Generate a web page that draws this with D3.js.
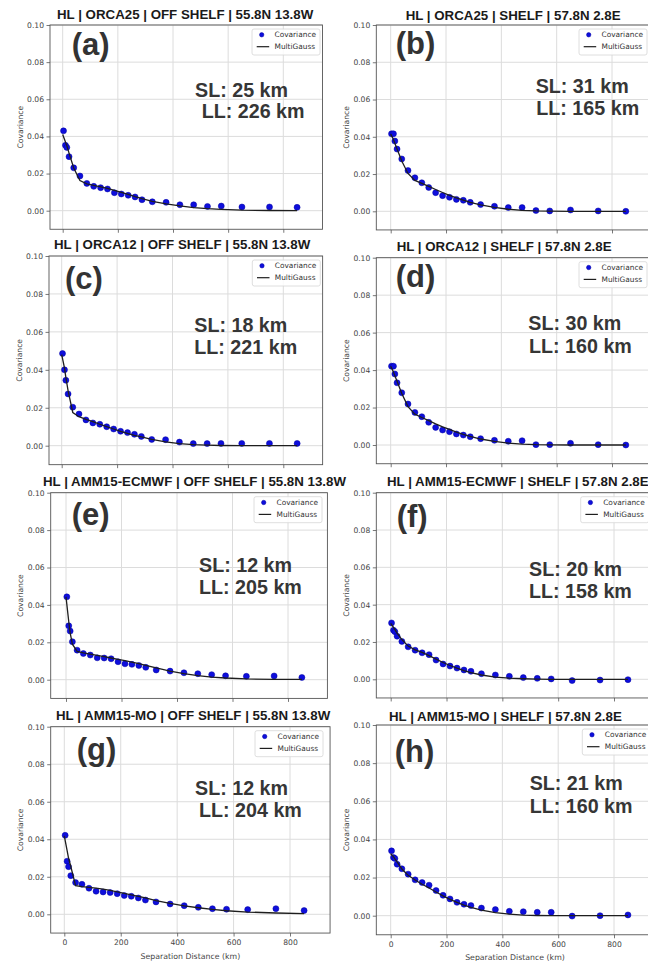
<!DOCTYPE html>
<html>
<head>
<meta charset="utf-8">
<script src="https://cdn.jsdelivr.net/npm/d3@7"></script>
<style>
  html, body { margin: 0; padding: 0; background: #fff; }
  svg { display: block; }
</style>
</head>
<body>
<svg id="fig" width="648" height="961"></svg>
<script>
// Separation distance bins (km) for the binned covariances
const distances = [3, 10, 15, 23, 40, 62.5, 87.5, 112.5, 137.5, 162.5, 187.5, 212.5, 237.5, 262.5, 287.5, 325, 375, 425, 475, 525, 575, 650, 750, 850];
// Distances at which the MultiGauss fit is drawn (km)
const fitDistances = [0, 10, 15, 23, 40, 62.5, 87.5, 112.5, 137.5, 162.5, 187.5, 212.5, 237.5, 262.5, 287.5, 325, 375, 425, 475, 525, 575, 650, 750, 850];

const xTicks = [0, 200, 400, 600, 800];
const yTicks = [0.00, 0.02, 0.04, 0.06, 0.08, 0.10];

// (a) ORCA25 off shelf
const covA = [0.0430, 0.0352, 0.0341, 0.0291, 0.0231, 0.0187, 0.0147, 0.0131, 0.0124, 0.0117, 0.0097, 0.0090, 0.0083, 0.0074, 0.0059, 0.0048, 0.0045, 0.0032, 0.0032, 0.0023, 0.0025, 0.0020, 0.0020, 0.0018];
const fitA = [0.0410, 0.0370, 0.0350, 0.0310, 0.0230, 0.0162, 0.0145, 0.0136, 0.0128, 0.0120, 0.0110, 0.0099, 0.0088, 0.0076, 0.0065, 0.0050, 0.0037, 0.0026, 0.0017, 0.0011, 0.0007, 0.0003, 0.0001, 0.0000];
// (b) ORCA25 shelf
const covB = [0.0416, 0.0416, 0.0377, 0.0334, 0.0281, 0.0219, 0.0180, 0.0153, 0.0128, 0.0100, 0.0084, 0.0075, 0.0064, 0.0059, 0.0048, 0.0036, 0.0027, 0.0020, 0.0020, 0.0004, 0.0002, 0.0007, 0.0002, 0.0000];
const fitB = [0.0415, 0.0385, 0.0365, 0.0335, 0.0270, 0.0203, 0.0166, 0.0150, 0.0134, 0.0117, 0.0101, 0.0086, 0.0072, 0.0060, 0.0048, 0.0035, 0.0021, 0.0011, 0.0005, 0.0002, 0.0001, 0.0000, 0.0000, 0.0000];
// (c) ORCA12 off shelf
const covC = [0.0486, 0.0400, 0.0345, 0.0273, 0.0203, 0.0167, 0.0136, 0.0120, 0.0113, 0.0100, 0.0088, 0.0076, 0.0069, 0.0060, 0.0049, 0.0033, 0.0032, 0.0019, 0.0011, 0.0011, 0.0012, 0.0012, 0.0012, 0.0012];
const fitC = [0.0480, 0.0410, 0.0360, 0.0290, 0.0175, 0.0153, 0.0139, 0.0127, 0.0113, 0.0100, 0.0088, 0.0076, 0.0065, 0.0055, 0.0046, 0.0033, 0.0020, 0.0011, 0.0006, 0.0003, 0.0001, 0.0000, 0.0000, 0.0000];
// (d) ORCA12 shelf
const covD = [0.0421, 0.0421, 0.0379, 0.0332, 0.0279, 0.0219, 0.0174, 0.0151, 0.0121, 0.0094, 0.0080, 0.0071, 0.0059, 0.0053, 0.0044, 0.0034, 0.0025, 0.0020, 0.0023, 0.0002, 0.0002, 0.0009, 0.0002, 0.0000];
const fitD = [0.0420, 0.0390, 0.0370, 0.0340, 0.0275, 0.0205, 0.0165, 0.0147, 0.0130, 0.0113, 0.0097, 0.0083, 0.0069, 0.0057, 0.0046, 0.0032, 0.0019, 0.0010, 0.0005, 0.0002, 0.0001, 0.0000, 0.0000, 0.0000];
// (e) AMM15-ECMWF off shelf
const covE = [0.0443, 0.0288, 0.0260, 0.0203, 0.0158, 0.0140, 0.0132, 0.0117, 0.0116, 0.0112, 0.0096, 0.0085, 0.0082, 0.0076, 0.0066, 0.0052, 0.0046, 0.0037, 0.0032, 0.0027, 0.0021, 0.0018, 0.0020, 0.0012];
const fitE = [0.0443, 0.0310, 0.0250, 0.0190, 0.0151, 0.0143, 0.0137, 0.0130, 0.0123, 0.0116, 0.0109, 0.0102, 0.0094, 0.0086, 0.0077, 0.0063, 0.0046, 0.0033, 0.0022, 0.0014, 0.0009, 0.0004, 0.0002, 0.0002];
// (f) AMM15-ECMWF shelf
const covF = [0.0302, 0.0263, 0.0255, 0.0231, 0.0203, 0.0174, 0.0156, 0.0142, 0.0132, 0.0103, 0.0082, 0.0071, 0.0060, 0.0050, 0.0043, 0.0030, 0.0023, 0.0016, 0.0009, 0.0005, 0.0002, -0.0007, -0.0004, -0.0002];
const fitF = [0.0300, 0.0278, 0.0266, 0.0248, 0.0213, 0.0178, 0.0158, 0.0144, 0.0127, 0.0108, 0.0090, 0.0074, 0.0060, 0.0047, 0.0036, 0.0023, 0.0012, 0.0006, 0.0003, 0.0001, 0.0000, 0.0000, 0.0000, 0.0000];
// (g) AMM15-MO off shelf
const covG = [0.0421, 0.0283, 0.0254, 0.0206, 0.0169, 0.0160, 0.0139, 0.0123, 0.0119, 0.0116, 0.0110, 0.0100, 0.0096, 0.0087, 0.0076, 0.0066, 0.0055, 0.0046, 0.0037, 0.0030, 0.0027, 0.0025, 0.0030, 0.0020];
const fitG = [0.0418, 0.0340, 0.0300, 0.0255, 0.0153, 0.0148, 0.0144, 0.0139, 0.0134, 0.0127, 0.0119, 0.0111, 0.0104, 0.0095, 0.0087, 0.0073, 0.0058, 0.0045, 0.0035, 0.0026, 0.0019, 0.0012, 0.0007, 0.0004];
// (h) AMM15-MO shelf
const covH = [0.0340, 0.0305, 0.0300, 0.0270, 0.0246, 0.0218, 0.0188, 0.0174, 0.0160, 0.0132, 0.0107, 0.0088, 0.0070, 0.0060, 0.0053, 0.0040, 0.0032, 0.0023, 0.0021, 0.0018, 0.0018, -0.0002, 0.0000, 0.0004];
const fitH = [0.0325, 0.0310, 0.0298, 0.0282, 0.0245, 0.0212, 0.0187, 0.0165, 0.0145, 0.0124, 0.0104, 0.0086, 0.0070, 0.0056, 0.0044, 0.0029, 0.0016, 0.0008, 0.0003, 0.0001, 0.0000, 0.0000, 0.0000, 0.0000];

const panelTags = ["(a)", "(b)", "(c)", "(d)", "(e)", "(f)", "(g)", "(h)"];
const panelTitles = [
  "HL | ORCA25 | OFF SHELF | 55.8N 13.8W",
  "HL | ORCA25 | SHELF | 57.8N 2.8E",
  "HL | ORCA12 | OFF SHELF | 55.8N 13.8W",
  "HL | ORCA12 | SHELF | 57.8N 2.8E",
  "HL | AMM15-ECMWF | OFF SHELF | 55.8N 13.8W",
  "HL | AMM15-ECMWF | SHELF | 57.8N 2.8E",
  "HL | AMM15-MO | OFF SHELF | 55.8N 13.8W",
  "HL | AMM15-MO | SHELF | 57.8N 2.8E"
];
const shortLengths = [25, 31, 18, 30, 12, 20, 12, 21];
const longLengths = [226, 165, 221, 160, 205, 158, 204, 160];
const covSeries = [covA, covB, covC, covD, covE, covF, covG, covH];
const fitSeries = [fitA, fitB, fitC, fitD, fitE, fitF, fitG, fitH];

// Pixel placement of each sub-plot: frame left, x of 0 and 800 km, y of 0.10 and 0.00,
// legend box left edge, plus anchors for the title, panel tag and SL / LL annotation.
const layout = [
  {L: 50,    x0: 62.7,  x800: 283.3, top: 25,    y0: 210.7, leg: 252,   title: [57, 18.5],    tag: [71.7, 55],    sl: [195, 96.7],    ll: [201.7, 118.3], xlabels: false},
  {L: 376.3, x0: 390.7, x800: 612,   top: 25,    y0: 211.3, leg: 579,   title: [405.7, 20],   tag: [395.7, 53.5], sl: [535.7, 93.3],  ll: [536.3, 115],   xlabels: false},
  {L: 49,    x0: 61.7,  x800: 283.3, top: 256,   y0: 445.7, leg: 252.3, title: [54, 249],     tag: [65, 288.5],   sl: [194.3, 331.7], ll: [194.3, 354],   xlabels: false},
  {L: 376.3, x0: 390.7, x800: 612,   top: 257.7, y0: 445,   leg: 579,   title: [396.7, 250.5],tag: [395.7, 287],  sl: [528.3, 330],   ll: [529, 352.7],   xlabels: false},
  {L: 50.7,  x0: 66,    x800: 288,   top: 492.7, y0: 679.7, leg: 254,   title: [43, 486],     tag: [71.7, 525],   sl: [199, 571.7],   ll: [199, 594],     xlabels: false},
  {L: 376.3, x0: 390.7, x800: 614,   top: 492.7, y0: 679.3, leg: 580.7, title: [387, 486],    tag: [396.7, 527],  sl: [529, 576],     ll: [529, 598.3],   xlabels: false},
  {L: 50.7,  x0: 64.3,  x800: 290,   top: 726.7, y0: 914.3, leg: 255,   title: [56, 720],     tag: [76.7, 760],   sl: [195, 795],     ll: [199, 816.7],   xlabels: true},
  {L: 376.3, x0: 390.7, x800: 614,   top: 725,   y0: 915.7, leg: 582.3, title: [389, 721],    tag: [394.7, 762],  sl: [529.7, 790],   ll: [529.7, 812.7], xlabels: true}
];

const svg = d3.select("#fig");
svg.append("rect").attr("width", 648).attr("height", 961).attr("fill", "#fff");

const boldFont = "'Liberation Sans', Arial, sans-serif";
const plotFont = "'DejaVu Sans', sans-serif";

layout.forEach((p, i) => {
  const x = d3.scaleLinear().domain([0, 800]).range([p.x0, p.x800]);
  const y = d3.scaleLinear().domain([0, 0.1]).range([p.y0, p.top]);
  const left = p.L, right = x(942), top = y(0.1), bottom = y(-0.01);

  const g = svg.append("g");

  // grid
  g.append("g").selectAll("line").data(xTicks).join("line")
    .attr("x1", d => x(d)).attr("x2", d => x(d))
    .attr("y1", top).attr("y2", bottom)
    .attr("stroke", "#dcdcdc").attr("stroke-width", 1);
  g.append("g").selectAll("line").data(yTicks).join("line")
    .attr("x1", left).attr("x2", right)
    .attr("y1", d => y(d)).attr("y2", d => y(d))
    .attr("stroke", "#dcdcdc").attr("stroke-width", 1);

  // axes (ticks + labels) via d3-axis
  const yAxis = d3.axisLeft(y).tickValues(yTicks).tickFormat(d3.format(".2f")).tickSize(3.5).tickPadding(2.5);
  const ya = g.append("g").attr("transform", `translate(${left},0)`).call(yAxis);
  ya.select(".domain").remove();
  ya.selectAll("line").attr("stroke", "#555").attr("stroke-width", 0.8);
  ya.selectAll("text").attr("font-family", plotFont).attr("font-size", 7.6).attr("fill", "#444");

  const xAxis = d3.axisBottom(x).tickValues(xTicks).tickSize(3.5).tickPadding(3)
    .tickFormat(p.xlabels ? d3.format("d") : () => "");
  const xa = g.append("g").attr("transform", `translate(0,${bottom})`).call(xAxis);
  xa.select(".domain").remove();
  xa.selectAll("line").attr("stroke", "#555").attr("stroke-width", 0.8);
  xa.selectAll("text").attr("font-family", plotFont).attr("font-size", 7.6).attr("fill", "#444");

  // frame
  g.append("rect")
    .attr("x", left).attr("y", top)
    .attr("width", right - left).attr("height", bottom - top)
    .attr("fill", "none").attr("stroke", "#555").attr("stroke-width", 0.9);

  // y-axis title
  g.append("text")
    .attr("transform", `translate(${left - 30},${(top + bottom) / 2}) rotate(-90)`)
    .attr("text-anchor", "middle").attr("dominant-baseline", "central")
    .attr("font-family", plotFont).attr("font-size", 7.6).attr("fill", "#444")
    .text("Covariance");

  if (p.xlabels) {
    g.append("text")
      .attr("x", (left + right) / 2).attr("y", bottom + 25.5)
      .attr("text-anchor", "middle")
      .attr("font-family", plotFont).attr("font-size", 7.8).attr("fill", "#444")
      .text("Separation Distance (km)");
  }

  // covariance points
  const cov = covSeries[i];
  g.append("g").selectAll("circle").data(distances).join("circle")
    .attr("cx", d => x(d)).attr("cy", (d, k) => y(cov[k]))
    .attr("r", 3)
    .attr("fill", "#0e0edc").attr("stroke", "#0000a0").attr("stroke-width", 0.5);

  // MultiGauss fit
  const fit = fitSeries[i];
  const line = d3.line().x(d => x(d[0])).y(d => y(d[1]));
  g.append("path")
    .datum(fitDistances.map((d, k) => [d, fit[k]]))
    .attr("d", line)
    .attr("fill", "none").attr("stroke", "#1e1e1e").attr("stroke-width", 1.3);

  // legend
  const lg = g.append("g").attr("transform", `translate(${p.leg},${top})`);
  lg.append("rect").attr("x", 0).attr("y", 4).attr("width", 68).attr("height", 26).attr("rx", 2)
    .attr("fill", "#fff").attr("fill-opacity", 0.85).attr("stroke", "#d6d6d6").attr("stroke-width", 0.8);
  lg.append("circle").attr("cx", 9.7).attr("cy", 9.8).attr("r", 2.2)
    .attr("fill", "#0e0edc").attr("stroke", "#0000a0").attr("stroke-width", 0.5);
  lg.append("line").attr("x1", 4.7).attr("x2", 17.2).attr("y1", 21.7).attr("y2", 21.7)
    .attr("stroke", "#1e1e1e").attr("stroke-width", 1.2);
  lg.append("text").attr("x", 22.5).attr("y", 12.4)
    .attr("font-family", plotFont).attr("font-size", 7.4).attr("fill", "#333").text("Covariance");
  lg.append("text").attr("x", 22.5).attr("y", 24.4)
    .attr("font-family", plotFont).attr("font-size", 7.4).attr("fill", "#333").text("MultiGauss");

  // title
  svg.append("text")
    .attr("x", p.title[0]).attr("y", p.title[1])
    .attr("font-family", boldFont).attr("font-weight", "bold").attr("font-size", 13.3)
    .attr("fill", "#1a1a1a").text(panelTitles[i]);

  // panel tag
  svg.append("text")
    .attr("x", p.tag[0]).attr("y", p.tag[1])
    .attr("font-family", boldFont).attr("font-weight", "bold").attr("font-size", 31)
    .attr("fill", "#333").text(panelTags[i]);

  // length-scale annotation
  svg.append("text")
    .attr("x", p.sl[0]).attr("y", p.sl[1])
    .attr("font-family", boldFont).attr("font-weight", "bold").attr("font-size", 19.7)
    .attr("fill", "#363636").text(`SL: ${shortLengths[i]} km`);
  svg.append("text")
    .attr("x", p.ll[0]).attr("y", p.ll[1])
    .attr("font-family", boldFont).attr("font-weight", "bold").attr("font-size", 19.7)
    .attr("fill", "#363636").text(`LL: ${longLengths[i]} km`);
});
</script>
</body>
</html>
